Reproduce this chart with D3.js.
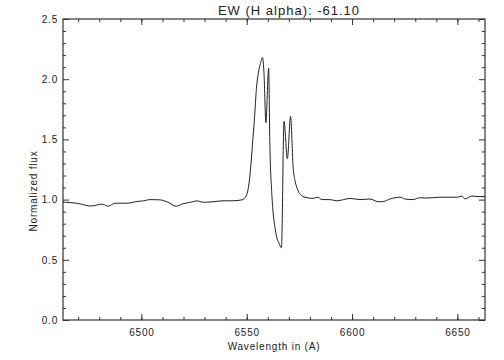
<!DOCTYPE html>
<html><head><meta charset="utf-8">
<script src="https://cdn.jsdelivr.net/npm/d3@7"></script>
<style>
html,body{margin:0;padding:0;background:#fff;}
svg text{font-family:"Liberation Sans",Arial,sans-serif;fill:#222;}
</style></head>
<body>
<svg id="c" width="504" height="360"></svg>
<script>
// Spectrum data (wavelength in Å, normalized flux)
const wavelength = [6462.8,6466.1,6468.5,6472.0,6475.6,6478.0,6480.4,6482.0,6484.2,6487.5,6493.2,6497.9,6501.0,6504.1,6508.8,6512.6,6516.4,6519.8,6524.0,6526.4,6529.2,6534.0,6538.7,6543.0,6547.8,6549.7,6550.8,6551.8,6552.7,6553.7,6554.6,6555.6,6556.5,6557.5,6558.2,6559.1,6560.4,6561.0,6561.9,6562.6,6563.4,6564.2,6565.3,6566.5,6567.7,6569.3,6570.8,6572.1,6572.9,6574.0,6575.6,6577.7,6581.5,6583.8,6585.7,6589.5,6592.8,6596.0,6599.0,6603.8,6608.5,6612.3,6614.5,6618.0,6622.8,6625.0,6628.9,6632.0,6635.6,6641.7,6647.4,6650.0,6652.2,6653.6,6656.9,6659.8,6663.1];
const flux = [0.98,0.975,0.972,0.96,0.947,0.95,0.962,0.96,0.945,0.97,0.97,0.984,0.99,1.0,0.998,0.978,0.945,0.966,0.98,0.99,0.978,0.982,0.99,0.99,0.998,1.03,1.10,1.25,1.45,1.68,1.92,2.06,2.13,2.18,2.05,1.64,2.09,1.45,1.05,0.88,0.77,0.69,0.64,0.60,1.65,1.34,1.69,1.25,1.16,1.09,1.04,1.02,1.01,1.02,1.0,1.0,0.99,1.0,1.01,1.0,1.005,0.983,0.983,1.005,1.02,1.005,1.0,1.015,1.013,1.02,1.02,1.02,1.03,1.005,1.03,1.025,1.025];
const xMajorTicks = [6500,6550,6600,6650];
const xMinorTicks = [6470,6480,6490,6500,6510,6520,6530,6540,6550,6560,6570,6580,6590,6600,6610,6620,6630,6640,6650,6660];
const yMajorTicks = [0.0,0.5,1.0,1.5,2.0,2.5];
const yMinorTicks = [0.1,0.2,0.3,0.4,0.6,0.7,0.8,0.9,1.1,1.2,1.3,1.4,1.6,1.7,1.8,1.9,2.1,2.2,2.3,2.4];
const titleText = "EW (H alpha): -61.10";
const xLabel = "Wavelength in (A)";
const yLabel = "Normalized flux";

const L=63,R=485,T=19,B=320;
const svg=d3.select("#c");
const x=d3.scaleLinear().domain([6462.8,6663.1]).range([L,R]);
const y=d3.scaleLinear().domain([0,2.5]).range([B,T]);
const axisColor="#333";

function styleAxis(g){
  g.select(".domain").remove();
  g.selectAll("line").attr("stroke",axisColor);
  g.selectAll("text").attr("fill","#222").style("font-size","10px").style("letter-spacing","0.8px").attr("font-family",null);
}
// bottom
svg.append("g").attr("transform",`translate(0,${B})`)
  .call(d3.axisBottom(x).tickValues(xMinorTicks).tickSize(-3).tickFormat("")).call(styleAxis);
svg.append("g").attr("transform",`translate(0,${B})`)
  .call(d3.axisBottom(x).tickValues(xMajorTicks).tickSize(-6).tickSizeOuter(0).tickPadding(9).tickFormat(d3.format("d"))).call(styleAxis);
// top
svg.append("g").attr("transform",`translate(0,${T})`)
  .call(d3.axisTop(x).tickValues(xMinorTicks).tickSize(-3).tickFormat("")).call(styleAxis);
svg.append("g").attr("transform",`translate(0,${T})`)
  .call(d3.axisTop(x).tickValues(xMajorTicks).tickSize(-6).tickFormat("")).call(styleAxis);
// left
svg.append("g").attr("transform",`translate(${L},0)`)
  .call(d3.axisLeft(y).tickValues(yMinorTicks).tickSize(-3).tickFormat("")).call(styleAxis);
svg.append("g").attr("transform",`translate(${L},0)`)
  .call(d3.axisLeft(y).tickValues(yMajorTicks).tickSize(-6).tickPadding(5).tickFormat(d3.format(".1f"))).call(styleAxis);
// right
svg.append("g").attr("transform",`translate(${R},0)`)
  .call(d3.axisRight(y).tickValues(yMinorTicks).tickSize(-3).tickFormat("")).call(styleAxis);
svg.append("g").attr("transform",`translate(${R},0)`)
  .call(d3.axisRight(y).tickValues(yMajorTicks).tickSize(-6).tickFormat("")).call(styleAxis);

// frame
svg.append("rect").attr("x",L).attr("y",T).attr("width",R-L).attr("height",B-T)
  .attr("fill","none").attr("stroke",axisColor).attr("stroke-width",1.2);

// spectrum
const data=wavelength.map((w,i)=>({w,f:flux[i]}));
svg.append("path").datum(data)
  .attr("fill","none").attr("stroke","#222").attr("stroke-width",1)
  .attr("d",d3.line().x(d=>x(d.w)).y(d=>y(d.f)).curve(d3.curveMonotoneX));

// labels
svg.append("text").attr("x",289).attr("y",15).attr("text-anchor","middle")
  .style("font-size","13px").style("letter-spacing","1px").text(titleText);
svg.append("text").attr("x",274).attr("y",350).attr("text-anchor","middle")
  .style("font-size","10px").style("letter-spacing","0.8px").text(xLabel);
svg.append("text").attr("transform","translate(37,191) rotate(-90)").attr("text-anchor","middle")
  .style("font-size","10px").style("letter-spacing","0.8px").text(yLabel);
</script>
</body></html>
